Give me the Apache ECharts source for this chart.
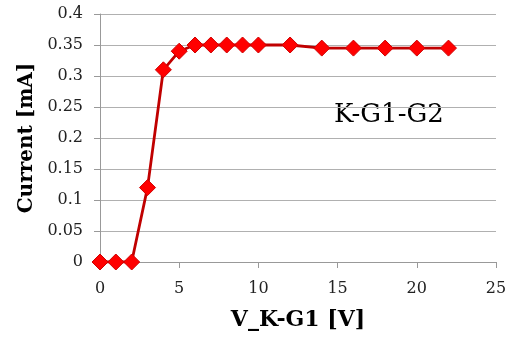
<!DOCTYPE html>
<html>
<head>
<meta charset="utf-8">
<script src="https://cdn.jsdelivr.net/npm/echarts@6/dist/echarts.min.js"></script>
<style>
html, body { margin: 0; padding: 0; background: #fff; }
#chart { width: 517px; height: 338px; }
</style>
</head>
<body>
<div id="chart"></div>
<script>
// measured voltages and currents
var voltage = [0, 1, 2, 3, 4, 5, 6, 7, 8, 9, 10, 12, 14, 16, 18, 20, 22];
var current = [0, 0, 0, 0.12, 0.31, 0.34, 0.35, 0.35, 0.35, 0.35, 0.35, 0.35, 0.345, 0.345, 0.345, 0.345, 0.345];

var points = voltage.map(function (v, i) {
  return [v, current[i]];
});

var font = "'DejaVu Serif', 'Liberation Serif', serif";

var chart = echarts.init(document.getElementById("chart"));

chart.setOption({
  backgroundColor: "#ffffff",
  animation: false,
  grid: { left: 100, right: 21, top: 14, bottom: 76 },
  xAxis: {
    type: "value",
    min: 0,
    max: 25,
    interval: 5,
    name: "V_K-G1 [V]",
    nameLocation: "middle",
    nameGap: 47,
    nameTextStyle: { fontFamily: font, fontWeight: "bold", fontSize: 22, color: "#000" },
    axisLine: { lineStyle: { color: "#999", width: 1 } },
    axisTick: { show: true, length: 6, lineStyle: { color: "#999" } },
    axisLabel: { fontFamily: font, fontSize: 16, color: "#222", margin: 19 },
    splitLine: { show: false }
  },
  yAxis: {
    type: "value",
    min: 0,
    max: 0.4,
    interval: 0.05,
    name: "Current [mA]",
    nameLocation: "middle",
    nameGap: 60,
    nameTextStyle: { fontFamily: font, fontWeight: "bold", fontSize: 20, color: "#000" },
    axisLine: { show: true, lineStyle: { color: "#999", width: 1 } },
    axisTick: { show: true, length: 6, lineStyle: { color: "#999" } },
    axisLabel: { fontFamily: font, fontSize: 16, color: "#222", margin: 17 },
    splitLine: { show: true, lineStyle: { color: "#b0b0b0", width: 1 } }
  },
  series: [
    {
      type: "line",
      data: points,
      symbol: "diamond",
      symbolSize: 16,
      lineStyle: { color: "#c00000", width: 2.8 },
      itemStyle: { color: "#ff0000", borderColor: "#d00000", borderWidth: 1 }
    }
  ],
  graphic: [
    {
      type: "text",
      left: 334,
      top: 102,
      style: { text: "K-G1-G2", fontFamily: font, fontSize: 26, fill: "#000" }
    }
  ]
});
</script>
</body>
</html>
